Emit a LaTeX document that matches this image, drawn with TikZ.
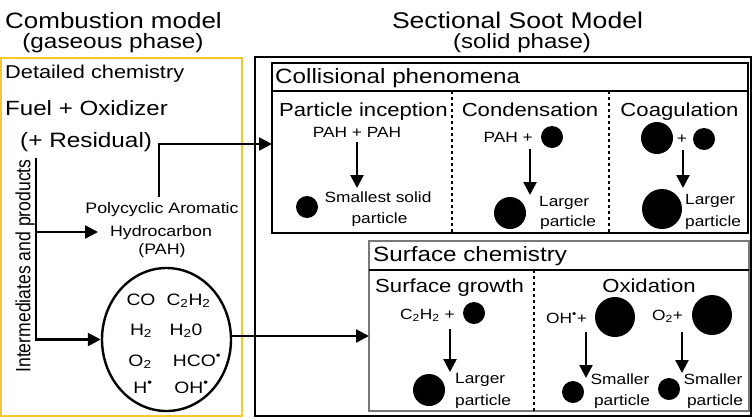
\documentclass[tikz,border=0pt]{standalone}
\usepackage{fontspec}
\setmainfont[FakeStretch=1.17]{Liberation Sans}
\newfontfamily\plainsans{Liberation Sans}
\usetikzlibrary{arrows.meta,shapes.geometric}
\definecolor{gold}{RGB}{247,200,40}
\definecolor{boxgray}{RGB}{120,120,120}
\newcommand\fsz[1]{\fontsize{#1}{#1}\selectfont}
\begin{document}
\begin{tikzpicture}[x=1pt,y=-1pt,
  t/.style={inner sep=0pt, anchor=base},
  tw/.style={inner sep=0pt, anchor=base west},
  te/.style={inner sep=0pt, anchor=base east},
  arr/.style={line width=2.4pt, -{Triangle[length=13pt,width=13pt]}},
  partic/.style={circle, fill=black, inner sep=0pt, minimum size=#1},
  bx/.style={line width=2.4pt},
  divider/.style={dashed, line width=1.1pt},
  big/.style={font=\fsz{20.7}},
  sub/.style={font=\fsz{18.9}},
  small/.style={font=\fsz{14.8}},
  spec/.style={font=\fsz{16.5}, inner sep=0pt, anchor=base}]
\useasboundingbox (0,0) rectangle (754,418);
% headings
\node[t,font=\fsz{22.2}] (cm) at (113.5,28) {Combustion model};
\node[t,font=\fsz{20.8}] (gp) at (113,48) {(gaseous phase)};
\node[t,font=\fsz{22.7}] (ssm) at (517.5,28) {Sectional Soot Model};
\node[t,font=\fsz{20.6}] (sp) at (522,48) {(solid phase)};
% frames
\draw[gold, line width=2pt] (1,58) rectangle (242,416);
\draw[bx] (255,57) rectangle (751,416);
\draw[bx] (272,63) rectangle (748,233);
\draw[line width=1.8pt] (272,91) -- (748,91);
\draw[divider] (452,91) -- (452,233);
\draw[divider] (609,91) -- (609,233);
\draw[boxgray, line width=2.4pt] (369,241) rectangle (749,411);
\draw[line width=1.8pt] (369,270) -- (749,270);
\draw[divider] (534,270) -- (534,411);
% left column
\node[tw,font=\fsz{18.6}] (dc) at (5,78) {Detailed chemistry};
\node[tw,font=\fsz{20.6}] (fo) at (5,115) {Fuel + Oxidizer};
\node[tw,font=\fsz{20.8}] (res) at (20,147) {(+ Residual)};
\node[t,font=\fsz{15.2}] (pah) at (162,213) {Polycyclic Aromatic};
\node[t,font=\fsz{15.2}] (hyd) at (161,236) {Hydrocarbon};
\node[t,font=\fsz{15.2}] (pahb) at (162,254) {(PAH)};
\node[rotate=90, inner sep=0pt] (inter) at (25,266) {\scalebox{1}[1.17]{\plainsans\fsz{17.6}Intermediates and products}};
\node[ellipse, draw, line width=2.4pt, minimum width=129pt, minimum height=143pt] (gas) at (166.5,339.5) {};
\node[spec] (s1) at (141,305) {CO};
\node[spec] (s2) at (188.5,305) {C\textsubscript{2}H\textsubscript{2}};
\node[spec] (s3) at (141,335) {H\textsubscript{2}};
\node[spec] (s4) at (186,335) {H\textsubscript{2}0};
\node[spec] (s5) at (140,366) {O\textsubscript{2}};
\node[spec] (s6) at (197,366) {HCO\textsuperscript{•}};
\node[spec] (s7) at (143,393) {H\textsuperscript{•}};
\node[spec] (s8) at (191.5,393) {OH\textsuperscript{•}};
% left connectors
\coordinate (vtop) at (36,158);
\coordinate (vbranch) at (36,232);
\coordinate (pahin) at (98,232);
\coordinate (pahtop) at (159,197);
\coordinate (collin) at (272,144);
\coordinate (surfin) at (369,336);
\draw[arr] (vtop) |- (gas.west);
\draw[arr] (vbranch) -- (pahin);
\draw[arr] (pahtop) |- (collin);
\draw[arr] (gas.east |- surfin) -- (surfin);
% collisional phenomena
\node[tw,big] (colt) at (275,83) {Collisional phenomena};
\node[tw,sub] (pit) at (279,116) {Particle inception};
\node[t,sub] (cot) at (530,116) {Condensation};
\node[t,sub] (cgt) at (679.5,116) {Coagulation};
% inception
\node[t,small] (pp) at (357,137) {PAH + PAH};
\coordinate (a1s) at (357,142); \coordinate (a1e) at (357,188);
\draw[arr] (a1s) -- (a1e);
\node[partic=22pt] (d1) at (307,207) {};
\node[t,small] (ss1) at (378,202) {Smallest solid};
\node[t,small] (ss2) at (379.5,223) {particle};
% condensation
\node[te,small] (cp) at (533,142) {PAH +};
\node[partic=22pt] (d2) at (552,137) {};
\coordinate (a2s) at (530,149); \coordinate (a2e) at (530,195);
\draw[arr] (a2s) -- (a2e);
\node[partic=32pt] (d3) at (510,213) {};
\node[tw,small] (l1) at (539,206) {Larger};
\node[tw,small] (l2) at (540,226) {particle};
% coagulation
\node[partic=32pt] (d4) at (657,138) {};
\node[small, inner sep=0pt] (plus) at (682,139) {+};
\node[partic=22pt] (d5) at (704,139) {};
\coordinate (a3s) at (683,150); \coordinate (a3e) at (683,188);
\draw[arr] (a3s) -- (a3e);
\node[partic=40pt] (d6) at (662,209) {};
\node[tw,small] (l3) at (685,204) {Larger};
\node[tw,small] (l4) at (685,226) {particle};
% surface chemistry
\node[tw,big] (sct) at (373,261) {Surface chemistry};
\node[tw,sub] (sgt) at (375,292) {Surface growth};
\node[t,sub] (oxt) at (649,292) {Oxidation};
\node[tw,small] (cc) at (400,319) {C\textsubscript{2}H\textsubscript{2} +};
\node[partic=22pt] (d7) at (474,313) {};
\coordinate (a4s) at (450,329); \coordinate (a4e) at (450,372);
\draw[arr] (a4s) -- (a4e);
\node[partic=32pt] (d8) at (429,390) {};
\node[tw,small] (l5) at (455,383) {Larger};
\node[tw,small] (l6) at (455,405) {particle};
% oxidation
\node[tw,small] (oh) at (546,323) {OH\textsuperscript{•}+};
\node[partic=40pt] (d9) at (615,317) {};
\node[tw,small] (o2) at (652,320) {O\textsubscript{2}+};
\node[partic=40pt] (d10) at (712,315) {};
\coordinate (a5s) at (586,332); \coordinate (a5e) at (586,378);
\draw[arr] (a5s) -- (a5e);
\coordinate (a6s) at (682,332); \coordinate (a6e) at (682,373);
\draw[arr] (a6s) -- (a6e);
\node[partic=22pt] (d11) at (573,392) {};
\node[partic=22pt] (d12) at (669,389) {};
\node[t,small] (sm1) at (620,384) {Smaller};
\node[t,small] (sm2) at (622,405) {particle};
\node[t,small] (sm3) at (713,384) {Smaller};
\node[t,small] (sm4) at (715,405) {particle};
\end{tikzpicture}
\end{document}
